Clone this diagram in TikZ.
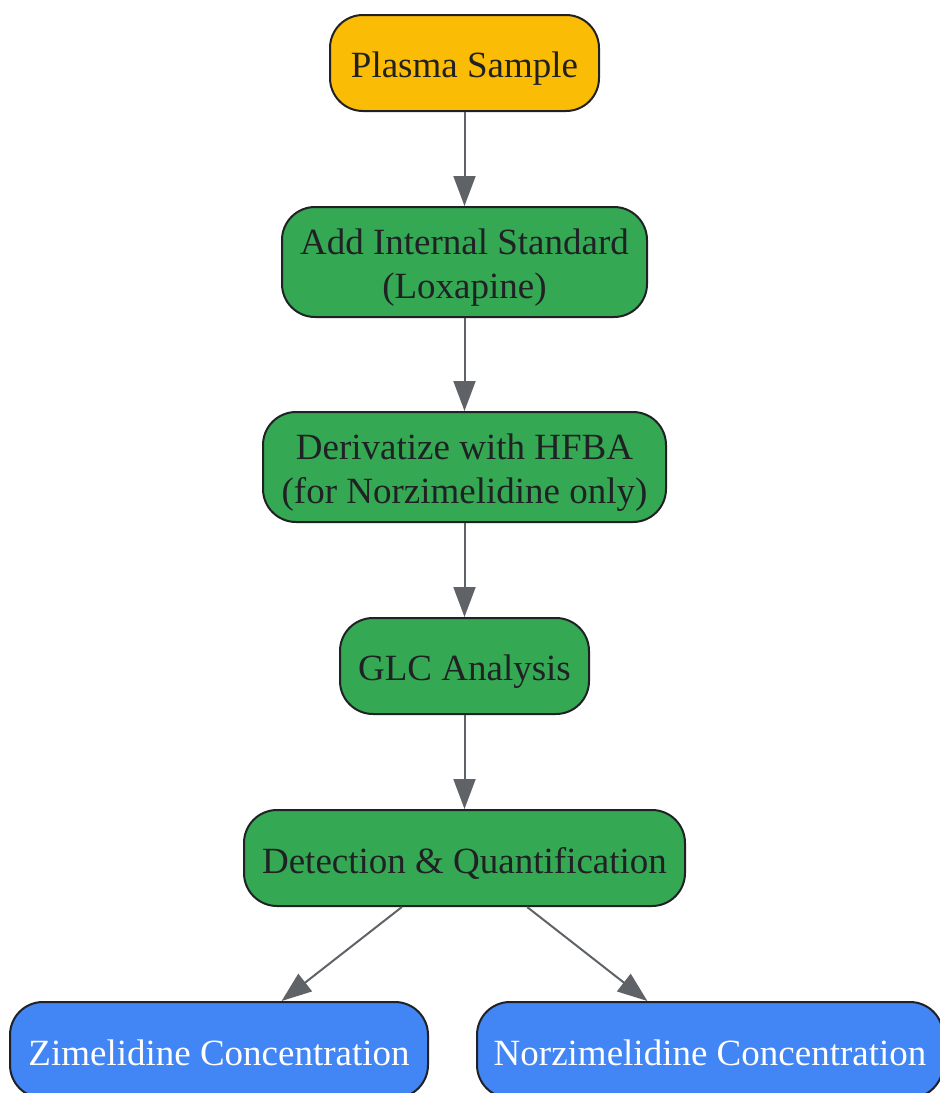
\documentclass[tikz,border=0pt]{standalone}
\usepackage{fontspec}
\setmainfont{Liberation Serif}
\usetikzlibrary{arrows.meta}
\definecolor{gold}{HTML}{FBBC05}
\definecolor{ggreen}{HTML}{34A853}
\definecolor{gblue}{HTML}{4285F4}
\definecolor{ink}{HTML}{202124}
\definecolor{edgegray}{HTML}{5F6368}
\tikzset{
  box/.style={draw=ink, line width=2pt, rounded corners=33pt, inner sep=0pt},
  boxtext/.style={align=center, font=\fontsize{37}{44}\selectfont, text=ink, inner sep=0pt, yshift=-5.5pt},
  whitetext/.style={boxtext, text=white, yshift=2.5pt},
  goldbox/.style={box, fill=gold},
  greenbox/.style={box, fill=ggreen},
  bluebox/.style={box, fill=gblue},
  flow/.style={draw=edgegray, line width=2pt, -{Triangle[length=30pt,width=22pt]}}
}
\begin{document}
\begin{tikzpicture}[x=1pt,y=-1pt]
\clip (0,0) rectangle (940,1093);
\useasboundingbox (0,0) rectangle (940,1093);
\node[goldbox, minimum width=269pt, minimum height=96pt,
  label={[boxtext]center:Plasma Sample}] (plasma) at (464.5,63) {};
\node[greenbox, minimum width=365pt, minimum height=110pt,
  label={[boxtext]center:Add Internal Standard\\(Loxapine)}] (istd) at (464.5,262) {};
\node[greenbox, minimum width=403pt, minimum height=110pt,
  label={[boxtext]center:Derivatize with HFBA\\(for Norzimelidine only)}] (deriv) at (464.5,467) {};
\node[greenbox, minimum width=249pt, minimum height=96pt,
  label={[boxtext]center:GLC Analysis}] (glc) at (464.5,666) {};
\node[greenbox, minimum width=441pt, minimum height=96pt,
  label={[boxtext]center:Detection \& Quantification}] (det) at (464.5,858) {};
\node[bluebox, minimum width=418pt, minimum height=96pt,
  label={[whitetext]center:Zimelidine Concentration}] (zim) at (219,1050) {};
\node[bluebox, minimum width=466pt, minimum height=96pt,
  label={[whitetext]center:Norzimelidine Concentration}] (norz) at (710,1050) {};
\draw[flow] (plasma) -- (istd);
\draw[flow] (istd) -- (deriv);
\draw[flow] (deriv) -- (glc);
\draw[flow] (glc) -- (det);
\draw[flow] (det) -- (zim);
\draw[flow] (det) -- (norz);
\end{tikzpicture}
\end{document}
